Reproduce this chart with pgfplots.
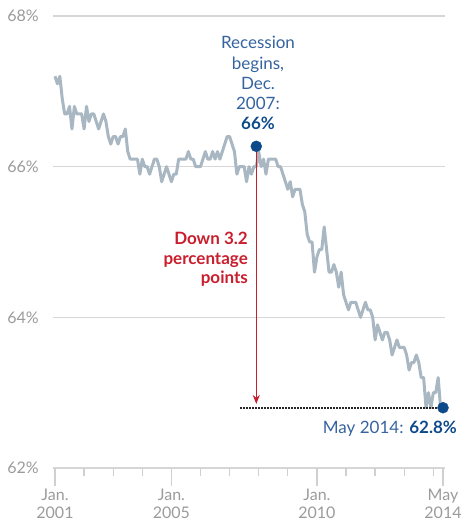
\documentclass[border=0pt]{standalone}
\usepackage{fontspec}
\setmainfont{Lato}
\usepackage{pgfplots}
\usepackage{pgfplotstable}
\pgfplotsset{compat=1.18}
\usetikzlibrary{arrows.meta}
\definecolor{linegray}{HTML}{A8B7C2}
\definecolor{navy}{HTML}{0E4A8A}
\definecolor{textblue}{HTML}{3563A0}
\definecolor{downred}{RGB}{200,30,45}
\definecolor{labelgray}{HTML}{9B9B9B}
\definecolor{gridgray}{HTML}{D6D6D6}
\definecolor{tickgray}{HTML}{D0D0D0}

% labor force participation rate, monthly, Jan 2001 - May 2014
\pgfplotstableread{
v
67.2
67.1
67.2
66.9
66.7
66.7
66.8
66.5
66.8
66.7
66.7
66.7
66.5
66.8
66.6
66.7
66.7
66.6
66.5
66.6
66.7
66.6
66.4
66.3
66.4
66.4
66.3
66.4
66.4
66.5
66.2
66.1
66.1
66.1
66.1
65.9
66.1
66.0
66.0
65.9
66.0
66.1
66.1
66.0
65.8
65.9
66.0
65.9
65.8
65.9
65.9
66.1
66.1
66.1
66.1
66.2
66.1
66.1
66.0
66.0
66.0
66.1
66.2
66.1
66.1
66.2
66.1
66.2
66.1
66.2
66.3
66.4
66.4
66.3
66.2
65.9
66.0
66.0
66.0
65.8
66.0
65.9
66.0
66.0
66.2
66.0
66.1
65.9
66.1
66.1
66.1
66.1
66.0
66.0
65.9
65.8
65.7
65.8
65.6
65.7
65.7
65.7
65.5
65.4
65.1
65.0
65.0
64.6
64.8
64.9
64.9
65.2
64.9
64.6
64.6
64.7
64.6
64.4
64.6
64.3
64.2
64.1
64.2
64.2
64.2
64.1
64.0
64.1
64.2
64.1
64.1
64.0
63.7
63.9
63.8
63.7
63.8
63.8
63.7
63.5
63.6
63.7
63.6
63.6
63.6
63.5
63.3
63.4
63.4
63.5
63.4
63.2
63.2
62.8
63.0
62.8
63.0
63.0
63.2
62.8
62.8
}\lfpr

\begin{document}
\begin{tikzpicture}
\begin{axis}[
    scale only axis,
    width=392pt, height=452pt,
    xmin=-0.82, xmax=160.82,
    ymin=62, ymax=68,
    clip=false,
    axis line style={draw=none},
    ytick={62,64,66,68},
    yticklabels={62\%,64\%,66\%,68\%},
    ymajorgrids,
    grid style={color=gridgray, line width=1.3pt},
    ytick style={draw=none},
    yticklabel style={font=\fontsize{16}{18}\selectfont, text=labelgray, anchor=east, inner sep=0pt, xshift=4pt},
    xtick={0,48,108,160},
    xticklabels={{Jan.\\2001},{Jan.\\2005},{Jan.\\2010},{May\\2014}},
    minor xtick={12,24,36,60,72,84,96,120,132,144,156},
    xtick pos=left,
    tick align=outside,
    major tick length=18pt,
    minor tick length=8pt,
    xtick style={color=tickgray, line width=1.3pt},
    xticklabel style={align=center, font=\fontsize{16}{17.7}\selectfont, text=labelgray},
]
\coordinate (sw) at (rel axis cs:0,0);
\coordinate (ne) at (rel axis cs:1,1);

\addplot[color=linegray, line width=3pt, line join=round] table[x expr=\coordindex, y=v] {\lfpr};

\draw[color=black!85, line width=2.2pt, dash pattern=on 1.6pt off 1.4pt] (axis cs:76.3,62.8) -- (axis cs:160,62.8);
\draw[color=downred, line width=1.5pt, -{Stealth[length=9pt,width=7pt]}] (axis cs:83,66.27) -- (axis cs:83,62.85);

\addplot[only marks, mark=*, mark size=5.5pt, color=navy] coordinates {(83,66.27) (160,62.8)};

\node[anchor=south, align=center, inner sep=0pt, yshift=16pt, text=textblue,
      font=\fontsize{17}{20.3}\selectfont]
  at (axis cs:83.7,66.27) {Recession\\begins,\\Dec.\\2007:\\\textbf{\color{navy}66\%}};
\node[anchor=north east, align=right, inner sep=0pt, text=downred,
      font=\bfseries\fontsize{17}{19.5}\selectfont]
  at (axis cs:79.6,65.133) {Down 3.2\\percentage\\points};
\node[anchor=base east, inner sep=0pt, text=textblue, font=\fontsize{17}{20}\selectfont]
  at (axis cs:165.8,62.453) {May 2014: \textbf{\color{navy}62.8\%}};
\end{axis}
\pgfresetboundingbox
\path[use as bounding box] ([shift={(-53pt,-60pt)}]sw) rectangle ([shift={(19pt,16pt)}]ne);
\end{tikzpicture}
\end{document}
